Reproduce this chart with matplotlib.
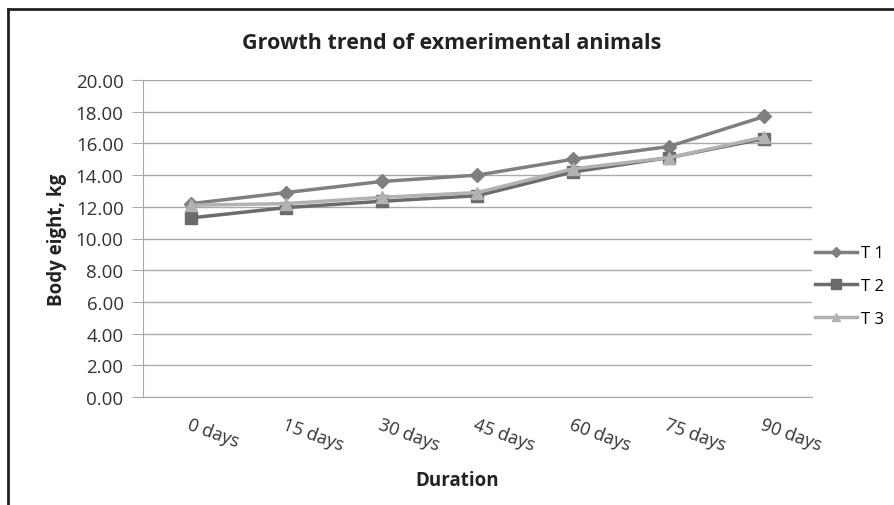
import matplotlib.pyplot as plt
from matplotlib.lines import Line2D

# data
durations = ['0 days', '15 days', '30 days', '45 days', '60 days', '75 days', '90 days']
t1 = [12.2, 12.9, 13.6, 14.0, 15.0, 15.8, 17.7]
t2 = [11.3, 11.95, 12.35, 12.7, 14.2, 15.1, 16.3]
t3 = [12.1, 12.2, 12.6, 12.9, 14.4, 15.1, 16.4]
yticks = [0, 2, 4, 6, 8, 10, 12, 14, 16, 18, 20]

plt.rcParams['font.family'] = ['Open Sans', 'DejaVu Sans']

W, H = 895, 506
fig = plt.figure(figsize=(W / 100, H / 100), dpi=100)
ax = fig.add_axes([143 / W, 1 - 398 / H, (812 - 143) / W, (398 - 81) / H])

x = range(len(durations))
ax.plot(x, t1, color='#7f7f7f', lw=2.5, marker='D', ms=7, label='T 1', zorder=3)
ax.plot(x, t2, color='#6b6b6b', lw=2.5, marker='s', ms=8, label='T 2', zorder=4)
ax.plot(x, t3, color='#b2b2b2', lw=2.5, marker='^', ms=8, label='T 3', zorder=5)

ax.set_xlim(-0.5, 6.5)
ax.set_ylim(0, 20)
ax.set_yticks(yticks)
ax.set_yticklabels(['%.2f' % v for v in yticks], fontsize=13.5, color='#333333')
ax.set_xticks(list(x))
ax.set_xticklabels(durations, rotation=-20, ha='left', rotation_mode='anchor',
                   fontsize=13, color='#333333')
ax.tick_params(axis='x', length=0, pad=13)
ax.tick_params(axis='y', length=8, color='#aaaaaa', pad=6)
ax.grid(axis='y', color='#aaaaaa', lw=1)
ax.set_axisbelow(True)
for s in ['top', 'right']:
    ax.spines[s].set_visible(False)
ax.spines['left'].set_color('#aaaaaa')
ax.spines['bottom'].set_color('#aaaaaa')

# title and x label sit centred on the whole chart, not the plot area
fig.text(452 / W, 1 - 44 / H, 'Growth trend of exmerimental animals', fontsize=15.5,
         fontweight='bold', color='#222222', ha='center', va='center')
ax.set_ylabel('Body eight, kg', fontsize=13.5, fontweight='bold', color='#222222', labelpad=6)
ax.set_xlabel('Duration', fontsize=13.5, fontweight='bold', color='#222222', labelpad=12)
ax.xaxis.label.set_x((457 - 143) / (812 - 143))

handles = [Line2D([], [], color='#7f7f7f', lw=2.5, marker='D', ms=5),
           Line2D([], [], color='#6b6b6b', lw=2.5, marker='s', ms=7),
           Line2D([], [], color='#b2b2b2', lw=2.5, marker='^', ms=6)]
fig.legend(handles, ['T 1', 'T 2', 'T 3'], loc='center left',
           bbox_to_anchor=(815 / W, 1 - 287 / H), frameon=False, borderpad=0,
           borderaxespad=0, fontsize=12, handlelength=2.5, labelspacing=1.0,
           handletextpad=0.25)

# outer frame
fig.add_artist(Line2D([8 / W, 8 / W], [0, 1 - 10 / H], color='#222222', lw=2))
fig.add_artist(Line2D([8 / W, 1], [1 - 10 / H, 1 - 10 / H], color='#222222', lw=2))

fig.savefig('out.png', dpi=100)
